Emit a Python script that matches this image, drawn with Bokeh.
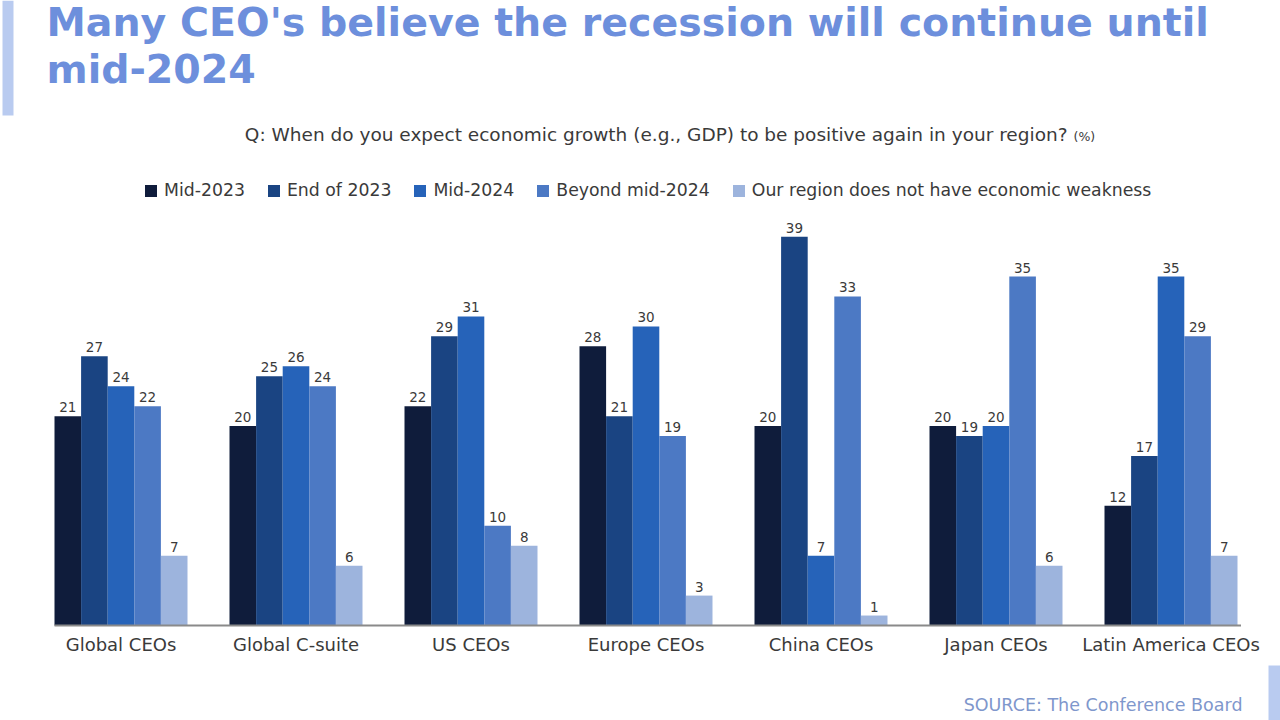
from bokeh.plotting import figure
from bokeh.models import Range1d, Label, BoxAnnotation, ColumnDataSource
from bokeh.core.properties import value
from bokeh.embed import file_html
from bokeh.resources import INLINE

categories = ["Global CEOs", "Global C-suite", "US CEOs", "Europe CEOs",
              "China CEOs", "Japan CEOs", "Latin America CEOs"]
series_names = ["Mid-2023", "End of 2023", "Mid-2024", "Beyond mid-2024",
                "Our region does not have economic weakness"]
mid_2023 = [21, 20, 22, 28, 20, 20, 12]
end_2023 = [27, 25, 29, 21, 39, 19, 17]
mid_2024 = [24, 26, 31, 30, 7, 20, 35]
beyond_mid_2024 = [22, 24, 10, 19, 33, 35, 29]
no_weakness = [7, 6, 8, 3, 1, 6, 7]
series_values = [mid_2023, end_2023, mid_2024, beyond_mid_2024, no_weakness]
colors = ["#0f1c3b", "#1a4482", "#2663b9", "#4c79c4", "#9db4dd"]

BODY_FONT = "DejaVu Sans"
TEXT_COLOR = "#3a3a3a"
W, H = 1280, 720

# frame covers the whole canvas; scale: 175 px per category, 9.97 px per %
PX_X, PX_Y = 175.0, 9.97
LEFT_PX, BASE_PX = 54, 625
x0 = -0.38 - LEFT_PX / PX_X
y0 = -(H - BASE_PX) / PX_Y
p = figure(width=W, height=H, output_backend="svg", toolbar_location=None,
           x_range=Range1d(x0, x0 + W / PX_X), y_range=Range1d(y0, y0 + H / PX_Y),
           min_border=0, background_fill_color="white",
           border_fill_color="white")
p.outline_line_color = None
p.xgrid.visible = False
p.ygrid.visible = False
p.xaxis.visible = False
p.yaxis.visible = False

bar_w = 0.152
n = len(series_names)
for k, (name, vals, col) in enumerate(zip(series_names, series_values, colors)):
    xs = [i + (k - (n - 1) / 2) * bar_w for i in range(len(categories))]
    src = ColumnDataSource(dict(x=xs, top=vals, lab=[str(v) for v in vals]))
    p.vbar(x="x", top="top", width=bar_w, source=src, fill_color=col,
           line_color=None, legend_label=name)
    p.text(x="x", y="top", text="lab", source=src, text_align="center",
           text_baseline="bottom", y_offset=-4, text_font_size="13.5px",
           text_color=TEXT_COLOR, text_font=value(BODY_FONT))

# baseline (category axis)
left_edge = -(n / 2) * bar_w
right_edge = (len(categories) - 1) + (n / 2) * bar_w + 0.02
p.segment(x0=[left_edge], x1=[right_edge], y0=[0], y1=[0],
          line_color="#8a8a8a", line_width=2)
cat_src = ColumnDataSource(dict(x=list(range(len(categories))), y=[0] * len(categories),
                                t=categories))
p.text(x="x", y="y", text="t", source=cat_src, text_align="center",
       text_baseline="middle", y_offset=19, text_font_size="18px",
       text_color=TEXT_COLOR, text_font=value(BODY_FONT))

lg = p.legend[0]
lg.orientation = "horizontal"
lg.location = (143, 520)
lg.border_line_color = None
lg.background_fill_alpha = 0
lg.padding = 0
lg.margin = 0
lg.spacing = 21
lg.label_standoff = 6
lg.glyph_width = 15
lg.glyph_height = 15
lg.label_text_font_size = "17.3px"
lg.label_text_color = TEXT_COLOR
lg.label_text_font = BODY_FONT

TITLE_COLOR = "#6d8fdc"
for txt, yy in [("Many CEO's believe the recession will continue until", H - 21),
                ("mid-2024", H - 68)]:
    p.add_layout(Label(x=46, y=yy, x_units="screen", y_units="screen", text=txt,
                       text_font="DejaVu Sans", text_font_style="bold",
                       text_font_size="39.5px", text_color=TITLE_COLOR,
                       text_baseline="alphabetic"))

p.add_layout(Label(x=1067, y=H - 134, x_units="screen", y_units="screen",
                   text="Q: When do you expect economic growth (e.g., GDP) to be positive again in your region?",
                   text_font=BODY_FONT, text_font_size="18.5px",
                   text_color=TEXT_COLOR, text_align="right",
                   text_baseline="alphabetic"))
p.add_layout(Label(x=1073, y=H - 136, x_units="screen", y_units="screen", text="(%)",
                   text_font=BODY_FONT, text_font_size="12.5px",
                   text_color=TEXT_COLOR, text_align="left",
                   text_baseline="alphabetic"))

p.add_layout(Label(x=1242, y=H - 704, x_units="screen", y_units="screen",
                   text="SOURCE: The Conference Board",
                   text_font=BODY_FONT, text_font_size="17.5px",
                   text_color="#7f97cc", text_align="right",
                   text_baseline="alphabetic"))

p.add_layout(BoxAnnotation(left=2, right=13, bottom=H - 115, top=H,
                           left_units="screen", right_units="screen",
                           bottom_units="screen", top_units="screen",
                           fill_color="#b9cbf0", fill_alpha=1, line_color=None))
p.add_layout(BoxAnnotation(left=1268, right=W, bottom=0, top=H - 665,
                           left_units="screen", right_units="screen",
                           bottom_units="screen", top_units="screen",
                           fill_color="#b9cbf0", fill_alpha=1, line_color=None))

open("out.html", "w").write(file_html(p, INLINE))
